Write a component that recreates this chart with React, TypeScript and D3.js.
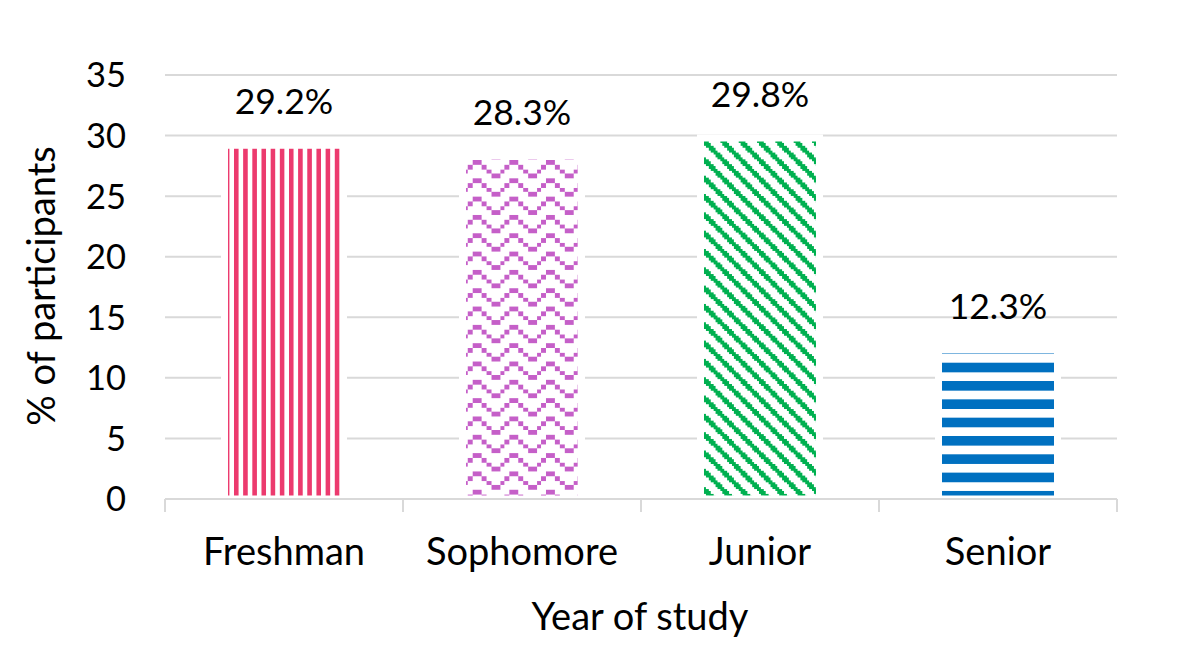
import { useEffect, useRef } from "react";
import * as d3 from "d3";

const categories = ["Freshman", "Sophomore", "Junior", "Senior"];
const values = [29.2, 28.3, 29.8, 12.3];
const valueLabels = ["29.2%", "28.3%", "29.8%", "12.3%"];
const yTicks = [0, 5, 10, 15, 20, 25, 30, 35];

const W = 1187;
const H = 655;
const FONT = "Lato, 'Open Sans', sans-serif";
const GRID = "#d9d9d9";

// pattern cell size (Excel 8x8 fill patterns, scaled)
const C = 2.29;

interface Fill {
  id: string;
  color: string;
  w: number; // tile size in cells
  h: number;
  cell: number;
  rects: number[][]; // [x, y, w, h] in cells
  ox: number;
  oy: number;
}

// wide downward diagonal: row r fills cols r-1..r+1 (wrapping)
const diagRects: number[][] = [];
for (let r = 0; r < 8; r++) {
  const start = r - 1;
  if (start < 0) {
    diagRects.push([0, r, 2, 1], [7, r, 1, 1]);
  } else if (start + 3 > 8) {
    diagRects.push([start, r, 8 - start, 1], [0, r, start + 3 - 8, 1]);
  } else {
    diagRects.push([start, r, 3, 1]);
  }
}

const fills: Fill[] = [
  { id: "pat-vert", color: "#ec3a6e", w: 4, h: 1, cell: C, rects: [[0, 0, 2, 1]], ox: 234, oy: 0 },
  {
    id: "pat-wave", color: "#c55fc8", w: 8, h: 4, cell: C * 2,
    rects: [[0, 0, 2, 1], [2, 1, 1, 1], [7, 1, 1, 1], [3, 2, 1, 1], [6, 2, 1, 1], [4, 3, 2, 1]],
    ox: 472.7, oy: 160,
  },
  { id: "pat-diag", color: "#00b050", w: 8, h: 8, cell: C, rects: diagRects, ox: 704, oy: 141 },
  { id: "pat-horz", color: "#0070c0", w: 1, h: 8, cell: C, rects: [[0, 0, 1, 4]], ox: 0, oy: 362.7 },
];

export default function App() {
  const svgRef = useRef<SVGSVGElement>(null);

  useEffect(() => {
    if (!svgRef.current) return;
    const svg = d3.select(svgRef.current);
    svg.selectAll("*").remove();

    const x = d3.scaleBand<string>()
      .domain(categories)
      .range([165, 1117])
      .paddingInner(0.5)
      .paddingOuter(0.25);
    const y = d3.scaleLinear().domain([0, 35]).range([499, 75]);

    // ── patterns ─────────────────────────────
    const defs = svg.append("defs");
    fills.forEach(f => {
      const p = defs.append("pattern")
        .attr("id", f.id)
        .attr("patternUnits", "userSpaceOnUse")
        .attr("x", f.ox).attr("y", f.oy)
        .attr("width", f.w * f.cell).attr("height", f.h * f.cell);
      p.append("rect")
        .attr("width", f.w * f.cell).attr("height", f.h * f.cell)
        .attr("fill", "white");
      f.rects.forEach(([rx, ry, rw, rh]) => {
        p.append("rect")
          .attr("x", rx * f.cell).attr("y", ry * f.cell)
          .attr("width", rw * f.cell).attr("height", rh * f.cell)
          .attr("fill", f.color)
          .attr("shape-rendering", "crispEdges");
      });
    });

    // ── gridlines ────────────────────────────
    svg.append("g").selectAll("line")
      .data(yTicks.filter(t => t > 0))
      .join("line")
      .attr("x1", 165).attr("x2", 1117)
      .attr("y1", d => y(d)).attr("y2", d => y(d))
      .attr("stroke", GRID).attr("stroke-width", 2);

    // ── tick labels ──────────────────────────
    svg.append("g").selectAll("text")
      .data(yTicks)
      .join("text")
      .attr("x", 126).attr("y", d => y(d) + 12.4)
      .attr("text-anchor", "end")
      .attr("font-size", 34.5)
      .attr("fill", "#000")
      .style("font-family", FONT)
      .text(d => d);

    // ── bars ─────────────────────────────────
    svg.append("g").selectAll("rect")
      .data(categories)
      .join("rect")
      .attr("x", d => x(d)!)
      .attr("width", x.bandwidth())
      .attr("y", (_, i) => y(values[i]))
      .attr("height", (_, i) => y(0) - y(values[i]))
      .attr("fill", (_, i) => `url(#${fills[i].id})`)
      .attr("stroke", "white")
      .attr("stroke-width", 7);

    // ── value labels ─────────────────────────
    svg.append("g").selectAll("text")
      .data(categories)
      .join("text")
      .attr("x", d => x(d)! + x.bandwidth() / 2)
      .attr("y", (_, i) => y(values[i]) - 31)
      .attr("text-anchor", "middle")
      .attr("font-size", 35.5)
      .attr("fill", "#000")
      .style("font-family", FONT)
      .text((_, i) => valueLabels[i]);

    // ── x axis ───────────────────────────────
    const axis = svg.append("g");
    axis.append("line")
      .attr("x1", 165).attr("x2", 1117)
      .attr("y1", 499).attr("y2", 499)
      .attr("stroke", GRID).attr("stroke-width", 2);
    const bounds = categories.map(c => x(c)! - x.step() * 0.25).concat([1117]);
    axis.selectAll("line.tick")
      .data(bounds)
      .join("line")
      .attr("class", "tick")
      .attr("x1", d => d).attr("x2", d => d)
      .attr("y1", 499).attr("y2", 512)
      .attr("stroke", GRID).attr("stroke-width", 2);

    axis.selectAll("text")
      .data(categories)
      .join("text")
      .attr("x", d => x(d)! + x.bandwidth() / 2)
      .attr("y", 565)
      .attr("text-anchor", "middle")
      .attr("font-size", 38)
      .attr("fill", "#000")
      .style("font-family", FONT)
      .text(d => d);

    // ── axis titles ──────────────────────────
    svg.append("text")
      .attr("x", 640).attr("y", 630)
      .attr("text-anchor", "middle")
      .attr("font-size", 38)
      .attr("fill", "#000")
      .style("font-family", FONT)
      .text("Year of study");

    svg.append("text")
      .attr("transform", "translate(55,286) rotate(-90)")
      .attr("text-anchor", "middle")
      .attr("font-size", 38)
      .attr("fill", "#000")
      .style("font-family", FONT)
      .text("% of participants");
  }, []);

  return (
    <div style={{ position: "absolute", left: 0, top: 0, width: W, height: H, background: "white" }}>
      <svg ref={svgRef} width={W} height={H} />
    </div>
  );
}
